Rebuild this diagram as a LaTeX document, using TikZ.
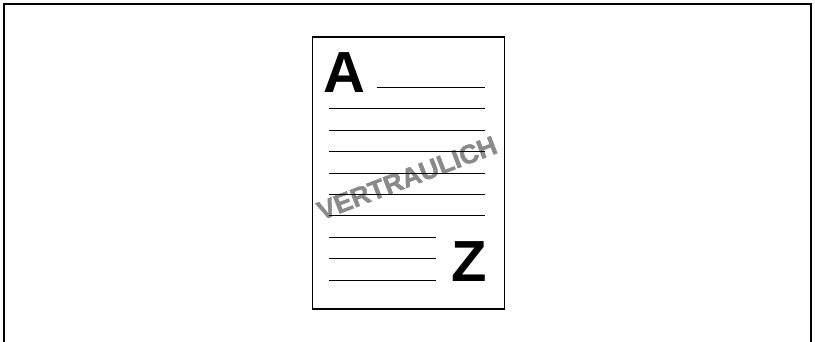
\documentclass[tikz,border=0pt]{standalone}
\usepackage{fontspec}
\setmainfont{Liberation Sans}
\newfontfamily\wmfont[FakeBold=1.6]{Liberation Sans Bold}
\definecolor{wmgray}{RGB}{138,138,138}
\begin{document}
\begin{tikzpicture}[x=1pt,y=-1pt,
  frame/.style={line width=2pt,black},
  sheet/.style={line width=1.2pt,black},
  textline/.style={line width=1pt,black},
  bigletter/.style={inner sep=0pt,anchor=base,font=\fontsize{58}{58}\selectfont\bfseries},
  watermark/.style={inner sep=0pt,rotate=21,text=wmgray,font=\wmfont\fontsize{26.5}{26.5}\selectfont}]
\useasboundingbox (0,0) rectangle (815,342);
\draw[frame] (4,343) -- (4,4) -- (811,4) -- (811,343);
\draw[sheet] (312.5,37) rectangle (504.5,309);
\node[bigletter] (A) at (344.5,93) {A};
\node[bigletter] (Z) at (469,282) {Z};
\node[watermark] (wm) at (407,178) {VERTRAULICH};
\draw[textline] (376.7,87.7) -- (485,87.7);
\foreach \y in {109,130.4,151.8,173.2,194.6,216}
  \draw[textline] (329,\y) -- (485,\y);
\foreach \y in {237.6,259,280.4}
  \draw[textline] (329,\y) -- (436,\y);
\end{tikzpicture}
\end{document}
